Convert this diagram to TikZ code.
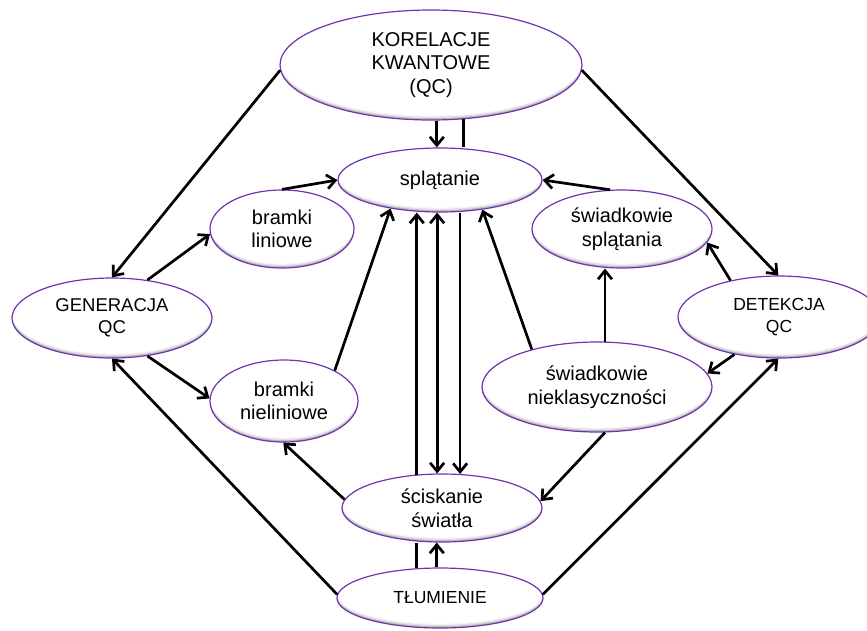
\documentclass[tikz,border=0pt]{standalone}
\usepackage{fontspec}
\setmainfont{Liberation Sans}
\usetikzlibrary{arrows.meta,shapes.geometric}

\definecolor{rim}{RGB}{112,52,172}

\tikzset{
  bubble/.style={ellipse, draw=rim, line width=1.2pt, inner sep=0pt,
    align=center, text=black},
  big/.style={font=\fontsize{20}{23.5}\selectfont},
  small/.style={font=\fontsize{17.5}{22}\selectfont},
  wide/.style={font=\fontsize{18.5}{22}\selectfont},
  tip/.tip={Straight Barb[length=8.5pt,width=14pt]},
  link/.style={line width=2.7pt, -tip},
  twoway/.style={line width=2.7pt, tip-tip},
  plain/.style={line width=2.7pt},
}

% ellipse with a soft inner shadow along its lower rim
% #1 name, #2 x, #3 y, #4 x radius, #5 y radius, #6 text style, #7 text
\newcommand\bubblenode[7]{%
  \fill[gray!55] (#2,#3) ellipse ({#4} and {#5});
  \begin{scope}
    \clip (#2,#3) ellipse ({#4} and {#5});
    \fill[gray!25] (#2,#3-1.8) ellipse ({#4} and {#5});
    \fill[gray!8] (#2,#3-3.2) ellipse ({#4} and {#5});
    \fill[white] (#2,#3-4.4) ellipse ({#4} and {#5});
  \end{scope}
  \node[bubble, #6, minimum width={2*#4pt}, minimum height={2*#5pt}]
    (#1) at (#2,#3) {#7};%
}

\begin{document}
\begin{tikzpicture}[x=1pt,y=-1pt]
\useasboundingbox (0,0) rectangle (867,630);

\bubblenode{kor}{431}{65}{151}{55}{big}{KORELACJE\\KWANTOWE\\(QC)}
\bubblenode{spl}{440}{180}{102}{32}{big}{splątanie}
\bubblenode{bl}{282}{229}{72}{39}{big}{bramki\\liniowe}
\bubblenode{bn}{284}{401}{74}{41}{big}{bramki\\nieliniowe}
\bubblenode{gen}{112}{318}{100}{40}{wide}{GENERACJA\\QC}
\bubblenode{det}{779}{317}{101}{41}{small}{DETEKCJA\\QC}
\bubblenode{ws}{622}{229}{90}{39}{big}{świadkowie\\splątania}
\bubblenode{wn}{597}{387}{115}{45}{big}{świadkowie\\nieklasyczności}
\bubblenode{sc}{442}{508}{100}{34}{big}{ściskanie\\światła}
\bubblenode{tl}{440}{598}{103}{30}{small}{TŁUMIENIE}

% from the top node
\draw[link] (kor.182) -- (gen.90);
\draw[link] (kor.358) -- (det.91);
\draw[link] (kor.-84) -- (kor.-84 |- spl.north);
\draw[plain] (kor.-59) -- (kor.-59 |- spl.north);

% into splątanie
\draw[link] (bl.90) -- (spl.180);
\draw[link] (ws.107) -- (spl.0);
\draw[link] (bn.31) -- (spl.-150);
\draw[link] (wn.150) -- (spl.-35);

% between splątanie and ściskanie światła
\draw[link] (sc.127) -- (sc.127 |- spl.south);
\draw[twoway] (sc.98) -- (sc.98 |- spl.south);
\draw[link] (sc.62 |- spl.south) -- (sc.62);

% generation side
\draw[link] (gen.47) -- (bl.184);
\draw[link] (gen.-47) -- (bn.178);

% detection side
\draw[link] (det.143) -- (ws.-9);
\draw[link] (det.220) -- (wn.7);
\draw[link] (wn.80) -- (wn.80 |- ws.south);
\draw[link] (wn.-80) -- (sc.4);
\draw[link] (sc.175) -- (bn.-91);

% from TŁUMIENIE
\draw[link] (tl.178) -- (gen.-90);
\draw[link] (tl.2) -- (det.-91);
\draw[link] (tl.96) -- (tl.96 |- sc.south);
\draw[plain] (tl.128) -- (tl.128 |- sc.south);
\end{tikzpicture}
\end{document}
